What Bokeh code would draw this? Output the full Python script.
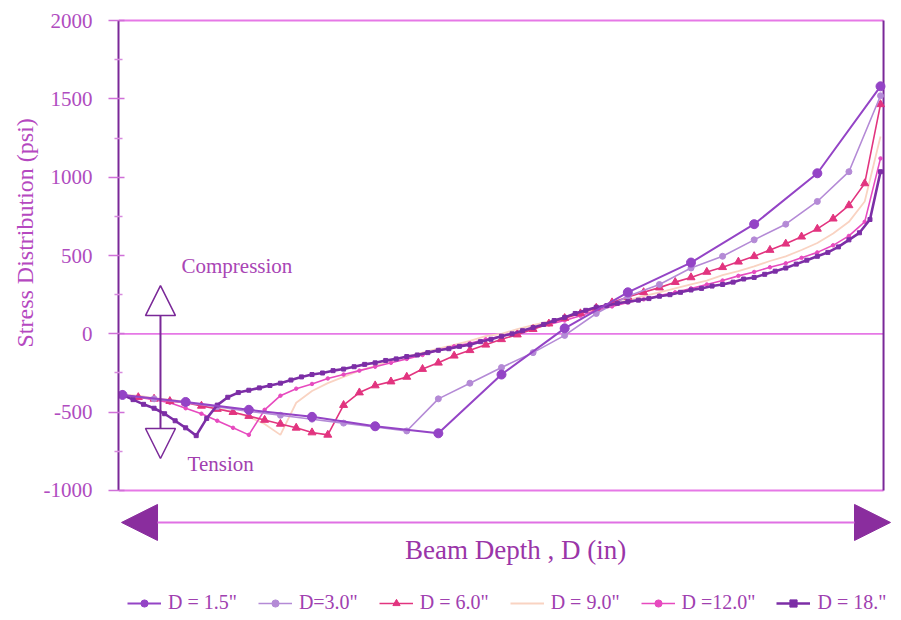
import numpy as np
from bokeh.plotting import figure
from bokeh.models import (Range1d, FixedTicker, Label, Arrow, NormalHead,
                          Legend, LegendItem, Title)
from bokeh.embed import file_html
from bokeh.resources import INLINE

# ---------------- data (stress in psi along normalized beam depth) ----------------
series_labels = ['D = 1.5"', 'D=3.0"', 'D = 6.0"', 'D = 9.0"', 'D =12.0"', 'D = 18."']

stress_d1_5 = [-390, -435, -485, -530, -590, -635, -260, 35, 265, 455, 700, 1025, 1580]

stress_d3_0 = [-390, -415, -440, -465, -495, -520, -545, -570, -595, -620, -415, -315,
               -215, -120, -10, 130, 240, 315, 420, 495, 600, 700, 845, 1035, 1520]

stress_d6_0 = [-390, -405, -415, -430, -440, -460, -480, -500, -525, -550, -575, -600,
               -630, -645, -455, -375, -330, -305, -275, -225, -185, -140, -105, -70,
               -35, -5, 30, 65, 100, 130, 165, 200, 235, 265, 295, 330, 360, 395, 425,
               460, 495, 535, 575, 620, 670, 735, 820, 960, 1465]

stress_d9_0 = [-390, -395, -410, -420, -435, -455, -475, -500, -530, -575, -645, -440,
               -365, -315, -275, -235, -205, -170, -145, -120, -95, -70, -45, -15, 0,
               30, 55, 80, 105, 130, 165, 190, 215, 240, 265, 290, 315, 340, 375, 400,
               430, 465, 495, 535, 580, 640, 715, 845, 1260]

stress_d12_0 = [-390, -405, -420, -440, -475, -510, -555, -600, -645, -485, -395, -350,
                -320, -285, -260, -235, -210, -185, -160, -135, -105, -80, -60, -35,
                -15, 10, 35, 60, 85, 115, 150, 175, 200, 220, 245, 265, 290, 315, 340,
                370, 395, 425, 450, 485, 520, 565, 625, 715, 1120]

stress_d18_0 = [-390, -420, -450, -475, -510, -555, -600, -650, -540, -455,
                -405, -375, -360, -345, -330, -315, -295, -275, -260, -250,
                -235, -225, -210, -195, -185, -170, -160, -145, -135, -120,
                -105, -95, -80, -70, -50, -35, -15, 0, 20, 40,
                60, 85, 105, 130, 150, 170, 180, 195, 205, 215,
                225, 240, 250, 265, 280, 290, 305, 315, 330, 350,
                360, 380, 400, 420, 445, 470, 495, 520, 555, 600,
                645, 730, 1035]

y_ticks = [-1000, -500, 0, 500, 1000, 1500, 2000]
y_minor_ticks = [-750, -250, 250, 750, 1250, 1750]

all_series = [stress_d1_5, stress_d3_0, stress_d6_0, stress_d9_0, stress_d12_0, stress_d18_0]

# ---------------- styling ----------------
FONT = "Liberation Serif"
colors = ["#9444c6", "#b48ad6", "#e2347f", "#f9d3c2", "#e74abf", "#7c2ea6"]
markers = ["circle", "circle", "triangle", None, "circle", "square"]
marker_sizes = [9, 6, 8, 0, 3.5, 4]
line_widths = [2, 1.6, 1.6, 1.8, 1.6, 2.6]
draw_order = [3, 4, 2, 1, 5, 0]

AX_DARK = "#7a2898"
PINK_LINE = "#e678e6"
TXT = "#b04cc0"

p = figure(width=901, height=620, output_backend="svg", toolbar_location=None,
           x_range=Range1d(-0.00528, 1.02770), y_range=Range1d(-1830, 2013),
           min_border_left=118, min_border_right=0, min_border_top=18,
           min_border_bottom=0, background_fill_color="white",
           border_fill_color="white")
p.outline_line_color = None
p.xaxis.visible = False
p.xgrid.visible = False
p.ygrid.visible = False

yax = p.yaxis[0]
yax.ticker = FixedTicker(ticks=y_ticks, minor_ticks=y_minor_ticks)
yax.bounds = (-1000, 2000)
yax.major_label_overrides = {t: str(t) for t in y_ticks}
yax.axis_line_color = AX_DARK
yax.axis_line_width = 2
yax.major_tick_line_color = "#d070d8"
yax.major_tick_line_width = 1.6
yax.major_tick_in = 6
yax.major_tick_out = 10
yax.minor_tick_line_color = "#d88ade"
yax.minor_tick_line_width = 1.4
yax.minor_tick_in = 4
yax.minor_tick_out = 4
yax.major_label_text_font = FONT
yax.major_label_text_font_size = "21px"
yax.major_label_text_color = TXT
yax.major_label_standoff = 16

# y-axis title as a left-side title (offset from the frame bottom)
p.add_layout(Title(text="Stress Distribution (psi)", align="left", offset=273,
                   text_font=FONT, text_font_size="24px", text_font_style="normal",
                   text_color="#b548c0", standoff=6), "left")

# frame lines
p.segment(x0=[-0.005], y0=[2000], x1=[1.004], y1=[2000], line_color=PINK_LINE, line_width=2)
p.segment(x0=[-0.005], y0=[-1000], x1=[1.004], y1=[-1000], line_color=PINK_LINE, line_width=2)
p.segment(x0=[-0.005], y0=[0], x1=[1.004], y1=[0], line_color=PINK_LINE, line_width=1.6)
p.segment(x0=[1.004], y0=[-1000], x1=[1.004], y1=[2000], line_color=AX_DARK, line_width=2)

# series
legend_renderers = {}
for k in draw_order:
    vals = all_series[k]
    xs = np.linspace(0.0, 1.0, len(vals))
    rs = [p.line(xs, vals, line_color=colors[k], line_width=line_widths[k])]
    if markers[k]:
        rs.append(p.scatter(xs, vals, marker=markers[k], size=marker_sizes[k],
                            fill_color=colors[k], line_color=colors[k]))
    legend_renderers[k] = rs

# compression / tension arrow
p.add_layout(Arrow(x_start=0.0501, y_start=-796, x_end=0.0501, y_end=308,
                   line_color=AX_DARK, line_width=2,
                   start=NormalHead(size=30, fill_color="white", line_color=AX_DARK, line_width=1.5),
                   end=NormalHead(size=30, fill_color="white", line_color=AX_DARK, line_width=1.5)))
p.add_layout(Label(x=0.0778, y=430, text="Compression", text_font=FONT,
                   text_font_size="21px", text_color="#a945b5",
                   text_align="left", text_baseline="middle"))
p.add_layout(Label(x=0.0858, y=-828, text="Tension", text_font=FONT,
                   text_font_size="21px", text_color="#a23faf",
                   text_align="left", text_baseline="middle"))

# beam depth double arrow
p.add_layout(Arrow(x_start=-0.0013, y_start=-1204, x_end=1.0132, y_end=-1204,
                   line_color="#e070e4", line_width=2,
                   start=NormalHead(size=36, fill_color="#8a2d9e", line_color="#8a2d9e"),
                   end=NormalHead(size=36, fill_color="#8a2d9e", line_color="#8a2d9e")))
p.add_layout(Label(x=0.5185, y=-1377, text="Beam Depth , D (in)", text_font=FONT,
                   text_font_size="27px", text_color="#9a35a8",
                   text_align="center", text_baseline="middle"))

legend = Legend(items=[LegendItem(label=series_labels[k], renderers=legend_renderers[k])
                       for k in range(6)],
                orientation="horizontal", location=(9, 6), glyph_width=34,
                glyph_height=18, label_standoff=7, spacing=21, padding=0, margin=0,
                background_fill_alpha=0, border_line_alpha=0,
                label_text_font=FONT, label_text_font_size="20px",
                label_text_color="#a040b0")
p.add_layout(legend)

open("out.html", "w").write(file_html(p, INLINE))
